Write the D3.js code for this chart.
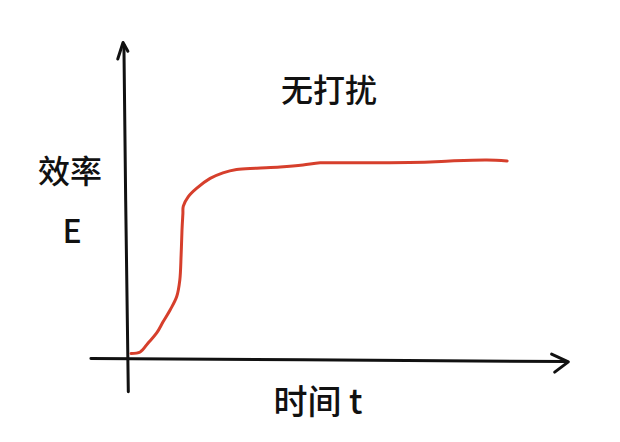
<!DOCTYPE html>
<html><head><meta charset="utf-8">
<script src="https://cdn.jsdelivr.net/npm/d3@7"></script>
<style>html,body{margin:0;padding:0;background:#fff;}svg{display:block;}</style>
</head><body>
<script>
// Data: time t vs efficiency E ("无打扰" = no disturbance)
const timeT = [0.9, 3.0, 4.8, 6.75, 8.2, 9.8, 11.3, 12.0, 12.3, 12.5, 12.7, 12.8, 13.9, 15.8, 18.9, 21.8, 24.9, 29.5, 34.8, 40.0, 43.9, 50.7, 68.9, 73.4, 81.8, 86.4];
const efficiencyE = [0.8, 1.3, 4.2, 7.4, 11.0, 14.8, 19.1, 24.4, 32.5, 40.5, 45.7, 48.2, 51.2, 53.9, 57.1, 58.9, 60.0, 60.4, 60.8, 61.4, 62.1, 62.1, 62.4, 62.7, 63.0, 62.7];
const titleText = "无打扰";
const yLabelText = "效率";
const yLabelSym = "E";
const xLabelText = "时间 t";

const W = 620, H = 442;
const x = d3.scaleLinear().domain([0, 100]).range([127, 567]);
const y = d3.scaleLinear().domain([0, 100]).range([356, 45]);

const svg = d3.select("body").append("svg").attr("width", W).attr("height", H);
const ink = "#111";
const font = "'Noto Sans CJK SC', 'Noto Sans', sans-serif";

// Axes (hand-drawn style lines)
const axisLine = d3.line().x(d => x(d[0])).y(d => y(d[1]));
// y axis
svg.append("path").attr("d", axisLine([[0.3, -11.5], [-0.3, 50], [-0.7, 100]]))
  .attr("fill", "none").attr("stroke", ink).attr("stroke-width", 3).attr("stroke-linecap", "round");
// y arrow head
svg.append("path").attr("d", axisLine([[-2.1, 95.5], [-0.9, 100.8], [0.2, 98]]))
  .attr("fill", "none").attr("stroke", ink).attr("stroke-width", 3).attr("stroke-linecap", "round").attr("stroke-linejoin", "round");
// x axis
svg.append("path").attr("d", axisLine([[-8.2, -0.8], [40, -1.2], [100, -1.8]]))
  .attr("fill", "none").attr("stroke", ink).attr("stroke-width", 3).attr("stroke-linecap", "round");
// x arrow head
svg.append("path").attr("d", axisLine([[96.5, 0.6], [100.3, -1.9], [97.2, -5.2]]))
  .attr("fill", "none").attr("stroke", ink).attr("stroke-width", 3).attr("stroke-linecap", "round").attr("stroke-linejoin", "round");

// Curve
const pts = timeT.map((t, i) => [t, efficiencyE[i]]);
const curve = d3.line().x(d => x(d[0])).y(d => y(d[1])).curve(d3.curveCatmullRom.alpha(0.5));
svg.append("path").attr("d", curve(pts))
  .attr("fill", "none").attr("stroke", "#d63f2c").attr("stroke-width", 3)
  .attr("stroke-linecap", "round").attr("stroke-linejoin", "round");

// Texts
const t = (xx, yy, size, s) => svg.append("text").attr("x", xx).attr("y", yy).attr("text-anchor", "middle")
  .attr("font-family", font).attr("font-size", size).attr("font-weight", 500).attr("fill", ink).text(s);
t(329, 102, 32, titleText);
t(70, 183, 32, yLabelText);
t(72, 243, 32, yLabelSym);
t(318, 414, 34, xLabelText);
</script>
</body></html>
